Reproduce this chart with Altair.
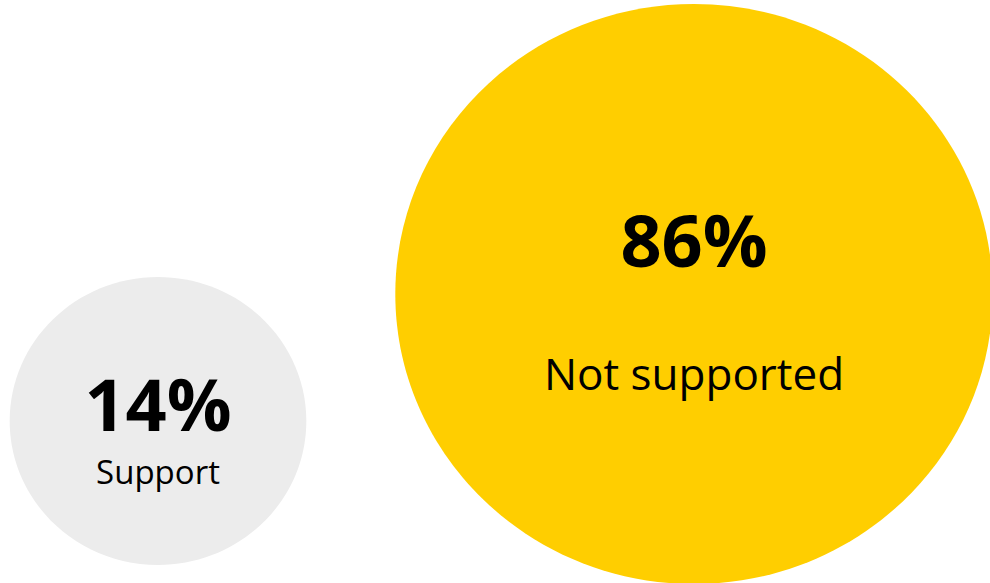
import altair as alt
import pandas as pd

categories = ["Support", "Not supported"]
shares = [14, 86]
pct_labels = ["14%", "86%"]
colors = ["#ececec", "#ffce00"]

df = pd.DataFrame({"category": categories, "share": shares, "pct": pct_labels})

FONT = "Open Sans"
ELLIPSE = "M -1.03 0 A 1.03 1 0 1 1 1.03 0 A 1.03 1 0 1 1 -1.03 0 Z"

x_enc = alt.X("category:N", scale=alt.Scale(type="point", domain=categories, range=[158, 694], padding=0), axis=None)

circles = alt.Chart(df).mark_point(filled=True, opacity=1, strokeWidth=0, shape=ELLIPSE).encode(
    x=x_enc,
    y=alt.Y("category:N", scale=alt.Scale(type="point", domain=categories, range=[421, 294], padding=0), axis=None),
    size=alt.Size("share:Q", scale=alt.Scale(domain=[14, 86], range=[288 ** 2, 580 ** 2]), legend=None),
    color=alt.Color("category:N", scale=alt.Scale(domain=categories, range=colors), legend=None),
)

pct = alt.Chart(df).mark_text(font=FONT, fontWeight=700, fontSize=72, baseline="alphabetic", align="center", color="#000000").encode(
    x=x_enc,
    y=alt.Y("category:N", scale=alt.Scale(type="point", domain=categories, range=[431, 267], padding=0), axis=None),
    text="pct:N",
)

names = alt.Chart(df).mark_text(font=FONT, baseline="alphabetic", align="center", color="#000000").encode(
    x=x_enc,
    y=alt.Y("category:N", scale=alt.Scale(type="point", domain=categories, range=[484, 390], padding=0), axis=None),
    size=alt.Size("category:N", scale=alt.Scale(domain=categories, range=[33, 44]), legend=None),
    text="category:N",
)

chart = alt.layer(circles, pct, names).resolve_scale(y="independent", size="independent").properties(
    width=990, height=583, autosize=alt.AutoSizeParams(type="none"), padding=0
).configure_view(stroke=None)

chart.save("out.html", embed_options={"renderer": "svg", "actions": False})
